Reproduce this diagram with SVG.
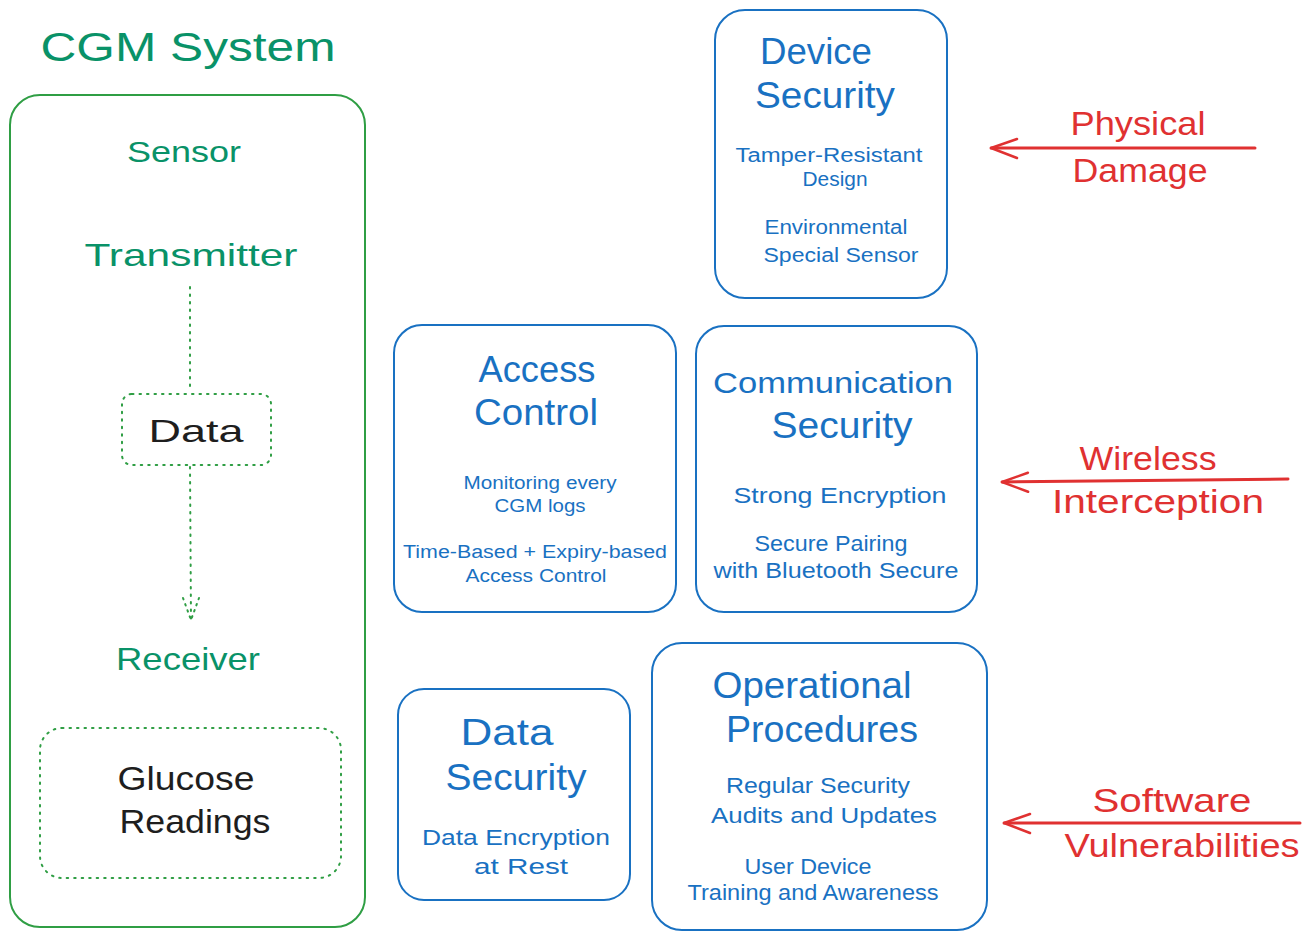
<svg xmlns="http://www.w3.org/2000/svg" width="1310" height="939" viewBox="0 0 1310 939">
<style>
text{font-family:"Liberation Sans","Open Sans",sans-serif;text-anchor:middle}
.g{fill:#099268}
.b{fill:#1971c2}
.r{fill:#e03131}
.k{fill:#1e1e1e}
.box{fill:none;stroke:#1971c2;stroke-width:2}
.gbox{fill:none;stroke:#2f9e44;stroke-width:2}
.dot{fill:none;stroke:#2f9e44;stroke-width:2;stroke-dasharray:1.5 6;stroke-linecap:round}
.arr{fill:none;stroke:#e03131;stroke-width:3;stroke-linecap:round}
</style>
<defs>
<marker id="ra" viewBox="0 0 30 24" refX="29" refY="12" markerWidth="30" markerHeight="24" markerUnits="userSpaceOnUse" orient="auto">
<path d="M3 2 L29 12 L3 21" fill="none" stroke="#e03131" stroke-width="2.5" stroke-linecap="round"/>
</marker>
<marker id="ga" viewBox="0 0 20 26" refX="10" refY="24" markerWidth="20" markerHeight="26" markerUnits="userSpaceOnUse" orient="0">
<path d="M2 2 L10 24 L18 2" fill="none" stroke="#2f9e44" stroke-width="2" stroke-dasharray="1.5 5" stroke-linecap="round"/>
</marker>
</defs>

<text class="g" x="188" y="61" font-size="40" textLength="295" lengthAdjust="spacingAndGlyphs">CGM System</text>

<g id="cgm-system">
<rect class="gbox" x="10" y="95" width="355" height="832" rx="30"/>
</g>
<g id="sensor"><text class="g" x="184" y="162" font-size="30" textLength="114" lengthAdjust="spacingAndGlyphs">Sensor</text></g>
<g id="transmitter"><text class="g" x="191" y="266" font-size="32" textLength="213" lengthAdjust="spacingAndGlyphs">Transmitter</text></g>
<g id="data">
<rect class="dot" x="122" y="394" width="149" height="71" rx="10"/>
<text class="k" x="196" y="442" font-size="32" textLength="95" lengthAdjust="spacingAndGlyphs">Data</text>
</g>
<g id="receiver"><text class="g" x="188" y="670" font-size="32" textLength="144" lengthAdjust="spacingAndGlyphs">Receiver</text></g>
<g id="glucose-readings">
<rect class="dot" x="40" y="728" width="301" height="150" rx="22"/>
<text class="k" x="186" y="790" font-size="33" textLength="137" lengthAdjust="spacingAndGlyphs">Glucose</text>
<text class="k" x="195" y="833" font-size="33" textLength="151" lengthAdjust="spacingAndGlyphs">Readings</text>
</g>

<g id="device-security">
<rect class="box" x="715" y="10" width="232" height="288" rx="30"/>
<text class="b" x="816" y="64" font-size="36" textLength="112" lengthAdjust="spacingAndGlyphs">Device</text>
<text class="b" x="825" y="108" font-size="36" textLength="140" lengthAdjust="spacingAndGlyphs">Security</text>
<text class="b" x="829" y="162" font-size="20" textLength="187" lengthAdjust="spacingAndGlyphs">Tamper-Resistant</text>
<text class="b" x="835" y="186" font-size="20" textLength="65" lengthAdjust="spacingAndGlyphs">Design</text>
<text class="b" x="836" y="234" font-size="20" textLength="143" lengthAdjust="spacingAndGlyphs">Environmental</text>
<text class="b" x="841" y="262" font-size="20" textLength="155" lengthAdjust="spacingAndGlyphs">Special Sensor</text>
</g>

<g id="access-control">
<rect class="box" x="394" y="325" width="282" height="287" rx="28"/>
<text class="b" x="537" y="382" font-size="36" textLength="117" lengthAdjust="spacingAndGlyphs">Access</text>
<text class="b" x="536" y="425" font-size="36" textLength="124" lengthAdjust="spacingAndGlyphs">Control</text>
<text class="b" x="540" y="489" font-size="18" textLength="153" lengthAdjust="spacingAndGlyphs">Monitoring every</text>
<text class="b" x="540" y="512" font-size="18" textLength="91" lengthAdjust="spacingAndGlyphs">CGM logs</text>
<text class="b" x="535" y="558" font-size="18" textLength="264" lengthAdjust="spacingAndGlyphs">Time-Based + Expiry-based</text>
<text class="b" x="536" y="582" font-size="18" textLength="141" lengthAdjust="spacingAndGlyphs">Access Control</text>
</g>

<g id="communication-security">
<rect class="box" x="696" y="326" width="281" height="286" rx="28"/>
<text class="b" x="833" y="393" font-size="30" textLength="240" lengthAdjust="spacingAndGlyphs">Communication</text>
<text class="b" x="842" y="438" font-size="36" textLength="141" lengthAdjust="spacingAndGlyphs">Security</text>
<text class="b" x="840" y="503" font-size="22" textLength="213" lengthAdjust="spacingAndGlyphs">Strong Encryption</text>
<text class="b" x="831" y="551" font-size="22" textLength="153" lengthAdjust="spacingAndGlyphs">Secure Pairing</text>
<text class="b" x="836" y="578" font-size="22" textLength="245" lengthAdjust="spacingAndGlyphs">with Bluetooth Secure</text>
</g>

<g id="data-security">
<rect class="box" x="398" y="689" width="232" height="211" rx="26"/>
<text class="b" x="507" y="745" font-size="36" textLength="93" lengthAdjust="spacingAndGlyphs">Data</text>
<text class="b" x="516" y="790" font-size="36" textLength="141" lengthAdjust="spacingAndGlyphs">Security</text>
<text class="b" x="516" y="845" font-size="22" textLength="188" lengthAdjust="spacingAndGlyphs">Data Encryption</text>
<text class="b" x="521" y="874" font-size="22" textLength="94" lengthAdjust="spacingAndGlyphs">at Rest</text>
</g>

<g id="operational-procedures">
<rect class="box" x="652" y="643" width="335" height="287" rx="30"/>
<text class="b" x="812" y="698" font-size="36" textLength="199" lengthAdjust="spacingAndGlyphs">Operational</text>
<text class="b" x="822" y="742" font-size="36" textLength="192" lengthAdjust="spacingAndGlyphs">Procedures</text>
<text class="b" x="818" y="793" font-size="22" textLength="184" lengthAdjust="spacingAndGlyphs">Regular Security</text>
<text class="b" x="824" y="823" font-size="22" textLength="226" lengthAdjust="spacingAndGlyphs">Audits and Updates</text>
<text class="b" x="808" y="874" font-size="22" textLength="127" lengthAdjust="spacingAndGlyphs">User Device</text>
<text class="b" x="813" y="900" font-size="22" textLength="251" lengthAdjust="spacingAndGlyphs">Training and Awareness</text>
</g>

<g id="physical-damage"><text class="r" x="1138" y="135" font-size="34" textLength="135" lengthAdjust="spacingAndGlyphs">Physical</text>
<text class="r" x="1140" y="182" font-size="34" textLength="135" lengthAdjust="spacingAndGlyphs">Damage</text></g>
<g id="wireless-interception"><text class="r" x="1148" y="470" font-size="34" textLength="137" lengthAdjust="spacingAndGlyphs">Wireless</text>
<text class="r" x="1158" y="513" font-size="34" textLength="212" lengthAdjust="spacingAndGlyphs">Interception</text></g>
<g id="software-vulnerabilities"><text class="r" x="1172" y="812" font-size="34" textLength="159" lengthAdjust="spacingAndGlyphs">Software</text>
<text class="r" x="1182" y="857" font-size="34" textLength="235" lengthAdjust="spacingAndGlyphs">Vulnerabilities</text></g>

<g id="connectors">
<path class="dot" d="M190 287 L190 392"/>
<path class="dot" d="M190 467 L191 620" marker-end="url(#ga)"/>
<path class="arr" d="M1255 148 L991 148" marker-end="url(#ra)"/>
<path class="arr" d="M1288 479 L1002 482" marker-end="url(#ra)"/>
<path class="arr" d="M1300 823 L1004 823" marker-end="url(#ra)"/>
</g>
</svg>
